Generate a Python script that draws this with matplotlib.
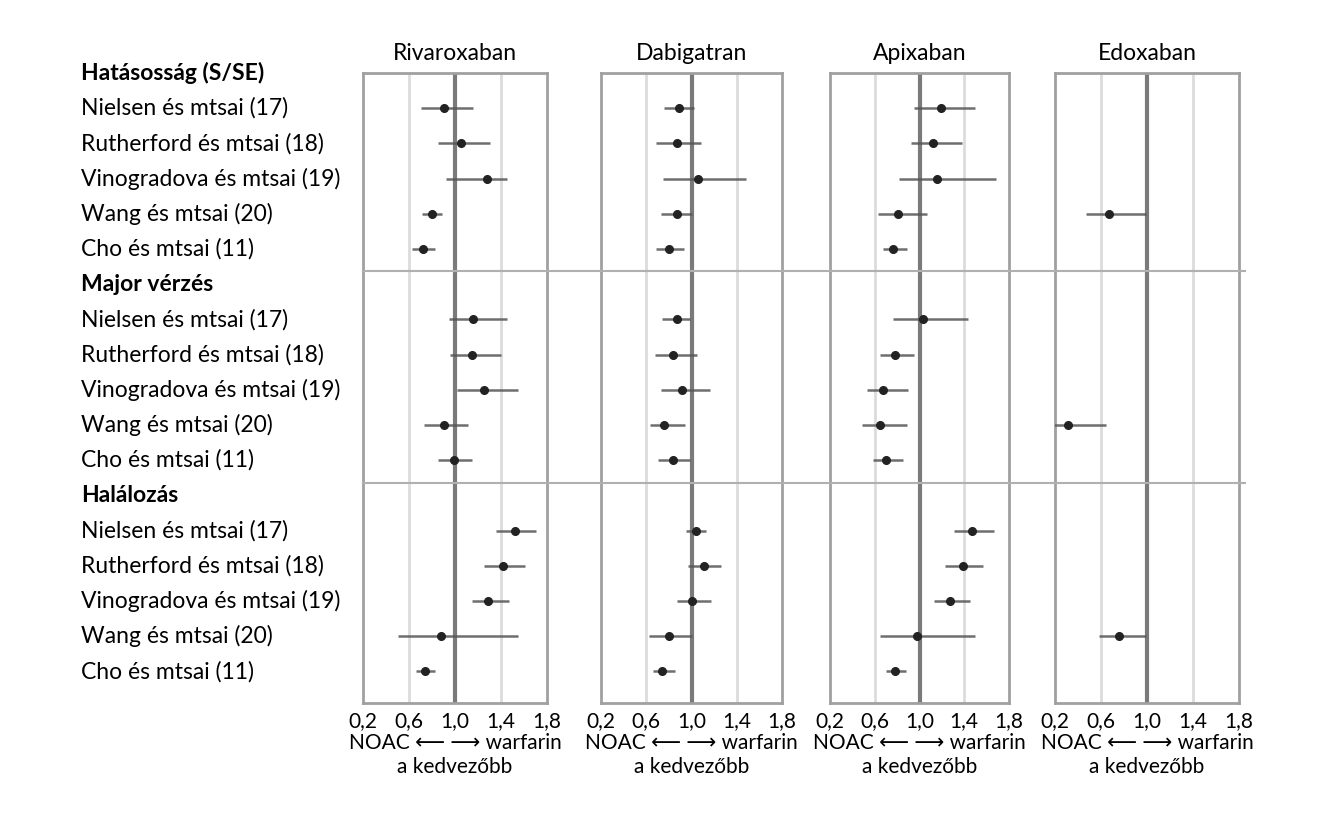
import matplotlib.pyplot as plt
import matplotlib.transforms as mtransforms
from matplotlib.lines import Line2D

plt.rcParams['font.family'] = ['Lato', 'DejaVu Sans']

drugs = ["Rivaroxaban", "Dabigatran", "Apixaban", "Edoxaban"]
groups = ["Hatásosság (S/SE)", "Major vérzés", "Halálozás"]
studies = ["Nielsen és mtsai (17)", "Rutherford és mtsai (18)",
           "Vinogradova és mtsai (19)", "Wang és mtsai (20)", "Cho és mtsai (11)"]
tick_vals = [0.2, 0.6, 1.0, 1.4, 1.8]
tick_labels = ["0,2", "0,6", "1,0", "1,4", "1,8"]

# point estimate, lower, upper -- per drug, group order, study order (None = no data)
riva_est = [0.90, 1.05, 1.28, 0.80, 0.72, 1.16, 1.15, 1.25, 0.90, 0.99, 1.52, 1.42, 1.29, 0.88, 0.74]
riva_lo = [0.70, 0.85, 0.92, 0.71, 0.63, 0.95, 0.96, 1.02, 0.73, 0.85, 1.36, 1.25, 1.15, 0.50, 0.66]
riva_hi = [1.16, 1.30, 1.45, 0.89, 0.83, 1.45, 1.40, 1.55, 1.11, 1.15, 1.70, 1.61, 1.47, 1.55, 0.83]

dabi_est = [0.89, 0.87, 1.06, 0.87, 0.80, 0.87, 0.84, 0.92, 0.76, 0.84, 1.04, 1.11, 1.00, 0.80, 0.74]
dabi_lo = [0.76, 0.69, 0.75, 0.73, 0.69, 0.74, 0.68, 0.73, 0.63, 0.70, 0.95, 0.97, 0.87, 0.62, 0.66]
dabi_hi = [1.02, 1.08, 1.48, 1.00, 0.93, 0.99, 1.05, 1.16, 0.94, 0.99, 1.13, 1.26, 1.17, 1.00, 0.85]

apix_est = [1.19, 1.12, 1.16, 0.81, 0.76, 1.03, 0.78, 0.67, 0.65, 0.70, 1.47, 1.39, 1.27, 0.98, 0.78]
apix_lo = [0.95, 0.92, 0.82, 0.63, 0.67, 0.76, 0.65, 0.53, 0.49, 0.58, 1.31, 1.23, 1.13, 0.65, 0.70]
apix_hi = [1.50, 1.38, 1.68, 1.07, 0.89, 1.43, 0.95, 0.90, 0.89, 0.85, 1.67, 1.57, 1.45, 1.50, 0.88]

edox_est = [None, None, None, 0.67, None, None, None, None, 0.31, None, None, None, None, 0.76, None]
edox_lo = [None, None, None, 0.47, None, None, None, None, 0.14, None, None, None, None, 0.58, None]
edox_hi = [None, None, None, 0.99, None, None, None, None, 0.64, None, None, None, None, 0.99, None]

estimates = [riva_est, dabi_est, apix_est, edox_est]
lowers = [riva_lo, dabi_lo, apix_lo, edox_lo]
uppers = [riva_hi, dabi_hi, apix_hi, edox_hi]

fig = plt.figure(figsize=(13.25, 8.14), dpi=100)

W, H = 1325, 814
panel_px = [(363, 547), (601, 782), (830, 1009), (1055, 1239)]
top_px, bot_px = 73, 703
row_h = 35.2
n_rows = (bot_px - top_px) / row_h

# row positions: header + 5 studies per group
row_pos = []
for g in range(3):
    for s in range(5):
        row_pos.append(g * 6 + 1 + s)

axes = []
for i, (x0, x1) in enumerate(panel_px):
    ax = fig.add_axes([x0 / W, 1 - bot_px / H, (x1 - x0) / W, (bot_px - top_px) / H])
    ax.patch.set_alpha(0)
    ax.set_xlim(0.2, 1.8)
    ax.set_ylim(n_rows, 0)
    for v in [0.6, 1.4]:
        ax.axvline(v, color="#dcdcdc", lw=2, zorder=1)
    ax.axvline(1.0, color="#7a7a7a", lw=3, zorder=2)
    for sp in ax.spines.values():
        sp.set_color("#a0a0a0")
        sp.set_linewidth(2)
    ax.set_yticks([])
    ax.set_xticks(tick_vals)
    ax.set_xticklabels(tick_labels, fontsize=15)
    ax.tick_params(axis="x", length=0, pad=6)
    ax.set_title(drugs[i], fontsize=16.5, pad=9)

    for k in range(15):
        if estimates[i][k] is None:
            continue
        y = row_pos[k]
        ax.plot([lowers[i][k], uppers[i][k]], [y, y], color="#555555", lw=1.8,
                solid_capstyle="butt", zorder=3, alpha=0.85)
        ax.plot(estimates[i][k], y, "o", color="#222222", ms=5.5, zorder=4)

    cx = (x0 + x1) / 2 / W
    fig.text(cx, 1 - 743 / H, "NOAC \u27f5 \u27f6 warfarin", ha="center", va="center", fontsize=15)
    fig.text(cx, 1 - 767 / H, "a kedvez\u0151bb", ha="center", va="center", fontsize=15)
    axes.append(ax)

# group separator lines spanning all panels
trans = mtransforms.blended_transform_factory(fig.transFigure, axes[0].transData)
for yy in [5.62, 11.66]:
    fig.add_artist(Line2D([363 / W, 1245 / W], [yy, yy], transform=trans,
                          color="#b0b0b0", lw=1.5, zorder=5))

# left-hand labels
for g in range(3):
    axes[0].text(81 / W, g * 6, groups[g], transform=trans, ha="left", va="center",
                 fontsize=16.5, fontweight="bold")
    for s in range(5):
        axes[0].text(81 / W, g * 6 + 1 + s, studies[s], transform=trans, ha="left",
                     va="center", fontsize=16.5)

fig.savefig("out.png", dpi=100)
